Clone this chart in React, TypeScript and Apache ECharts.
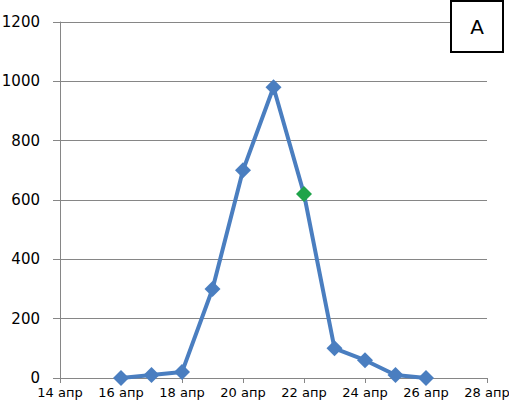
import React, { useEffect, useRef } from "react";
import * as echarts from "echarts";

const days = [16, 17, 18, 19, 20, 21, 22, 23, 24, 25, 26];
const values = [0, 10, 20, 300, 700, 980, 620, 100, 60, 10, 0];
const highlightDay = 22;
const panelLabel = "A";

export default function App() {
  const ref = useRef<HTMLDivElement>(null);
  useEffect(() => {
    if (!ref.current) return;
    const chart = echarts.init(ref.current, null, { renderer: "svg" });
    const data = days.map((d, i) =>
      d === highlightDay
        ? { value: [d, values[i]], itemStyle: { color: "#1FA34A" } }
        : { value: [d, values[i]] }
    );
    chart.setOption({
      animation: false,
      backgroundColor: "#fff",
      grid: {
        left: 60,
        right: 22,
        top: 22,
        bottom: 30,
        containLabel: false,
        outerBoundsMode: "none",
      },
      xAxis: {
        type: "value",
        min: 14,
        max: 28,
        interval: 2,
        axisLine: { show: true, onZero: false, lineStyle: { color: "#868686", width: 1 } },
        axisTick: { show: true, inside: false, length: 5, lineStyle: { color: "#868686" } },
        splitLine: { show: false },
        axisLabel: {
          formatter: (v: number) => `${v} апр`,
          color: "#000",
          fontFamily: "DejaVu Sans",
          fontSize: 13,
          margin: 8,
          showMaxLabel: true,
          showMinLabel: true,
        },
      },
      yAxis: {
        type: "value",
        min: 0,
        max: 1200,
        interval: 200,
        axisLine: { show: true, lineStyle: { color: "#868686", width: 1 } },
        axisTick: { show: true, inside: false, length: 7, lineStyle: { color: "#868686" } },
        splitLine: { show: true, lineStyle: { color: "#868686", width: 1 } },
        axisLabel: {
          formatter: (v: number) => String(v),
          color: "#000",
          fontFamily: "DejaVu Sans",
          fontSize: 15,
          margin: 20,
        },
      },
      series: [
        {
          type: "line",
          data,
          symbol: "diamond",
          symbolSize: 16,
          lineStyle: { color: "#4A7EC0", width: 4 },
          itemStyle: { color: "#4A7EC0" },
        },
      ],
      graphic: [
        {
          type: "rect",
          shape: { x: 451, y: 1, width: 52, height: 51 },
          style: { fill: "#fff", stroke: "#000", lineWidth: 2 },
          z: 100,
        },
        {
          type: "text",
          x: 477,
          y: 27,
          style: {
            text: panelLabel,
            fill: "#000",
            fontFamily: "DejaVu Sans",
            fontSize: 20,
            align: "center",
            verticalAlign: "middle",
          },
          z: 101,
        },
      ],
    });
    return () => chart.dispose();
  }, []);
  return (
    <div
      ref={ref}
      style={{ position: "fixed", left: 0, top: 0, width: 509, height: 408 }}
    />
  );
}
